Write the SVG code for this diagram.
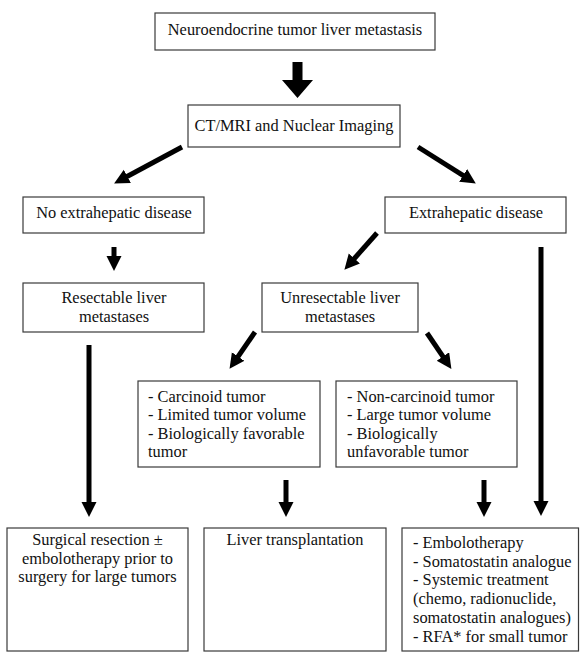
<svg xmlns="http://www.w3.org/2000/svg" width="580" height="652" viewBox="0 0 580 652">
<style>
  .box { fill: #ffffff; stroke: #3a3a3a; stroke-width: 1.2; }
  text { font-family: "Liberation Serif", "Times New Roman", serif; font-size: 16.4px; fill: #111111; }
  .c { text-anchor: middle; }
  .arr { stroke: #000000; stroke-width: 5; fill: none; marker-end: url(#head); }
</style>
<defs>
  <marker id="head" markerUnits="userSpaceOnUse" markerWidth="16" markerHeight="16" refX="4" refY="7.5" orient="auto">
    <path d="M0,0 L15,7.5 L0,15 z" fill="#000000"/>
  </marker>
</defs>
<rect width="580" height="652" fill="#ffffff"/>

<g id="connectors">
  <polygon points="292.5,62 302.5,62 302.5,80 313,80 297.5,98 282,80 292.5,80" fill="#000000"/>
  <line class="arr" x1="182" y1="147" x2="123.8" y2="178.2"/>
  <line class="arr" x1="418" y1="147" x2="466.5" y2="177.6"/>
  <line class="arr" x1="377" y1="233" x2="351.7" y2="261.5"/>
  <line class="arr" x1="255" y1="332" x2="235.8" y2="359.8"/>
  <line class="arr" x1="427" y1="333" x2="445.2" y2="359.8"/>
  <line class="arr" x1="114" y1="247" x2="114" y2="260"/>
  <line class="arr" x1="89" y1="345" x2="89" y2="506"/>
  <line class="arr" x1="541" y1="247" x2="541" y2="505"/>
  <line class="arr" x1="286" y1="480" x2="286" y2="506"/>
  <line class="arr" x1="484" y1="480" x2="484" y2="506"/>
</g>

<g id="n-start">
  <rect class="box" x="155" y="13" width="280" height="37"/>
  <text class="c" x="295" y="35">Neuroendocrine tumor liver metastasis</text>
</g>
<g id="n-imaging">
  <rect class="box" x="188" y="105" width="212" height="42"/>
  <text class="c" x="294" y="131">CT/MRI and Nuclear Imaging</text>
</g>
<g id="n-noextra">
  <rect class="box" x="23" y="197" width="181" height="36"/>
  <text class="c" x="114" y="218">No extrahepatic disease</text>
</g>
<g id="n-extra">
  <rect class="box" x="385" y="197" width="181" height="36"/>
  <text class="c" x="476" y="218">Extrahepatic disease</text>
</g>
<g id="n-resectable">
  <rect class="box" x="23" y="283" width="181" height="49"/>
  <text class="c" x="114" y="303">Resectable liver</text>
  <text class="c" x="114" y="321.5">metastases</text>
</g>
<g id="n-unresectable">
  <rect class="box" x="262" y="283" width="156" height="49"/>
  <text class="c" x="340" y="303">Unresectable liver</text>
  <text class="c" x="340" y="321.5">metastases</text>
</g>
<g id="n-carcinoid">
  <rect class="box" x="138" y="381" width="182" height="86"/>
  <text x="148" y="402">- Carcinoid tumor</text>
  <text x="148" y="420.4">- Limited tumor volume</text>
  <text x="148" y="438.8">- Biologically favorable</text>
  <text x="148" y="457.2">tumor</text>
</g>
<g id="n-noncarcinoid">
  <rect class="box" x="336" y="381" width="181" height="86"/>
  <text x="347" y="402">- Non-carcinoid tumor</text>
  <text x="347" y="420.4">- Large tumor volume</text>
  <text x="347" y="438.8">- Biologically</text>
  <text x="347" y="457.2">unfavorable tumor</text>
</g>
<g id="n-surgical">
  <rect class="box" x="7" y="528" width="181" height="123"/>
  <text class="c" x="97.5" y="545">Surgical resection ±</text>
  <text class="c" x="97.5" y="563.5">embolotherapy prior to</text>
  <text class="c" x="97.5" y="582">surgery for large tumors</text>
</g>
<g id="n-transplant">
  <rect class="box" x="204" y="528" width="182" height="123"/>
  <text class="c" x="295" y="545">Liver transplantation</text>
</g>
<g id="n-other">
  <rect class="box" x="402" y="528" width="176.5" height="123"/>
  <text x="413" y="548">- Embolotherapy</text>
  <text x="413" y="566.7">- Somatostatin analogue</text>
  <text x="413" y="585.4">- Systemic treatment</text>
  <text x="413" y="604.1">(chemo, radionuclide,</text>
  <text x="413" y="622.8">somatostatin analogues)</text>
  <text x="413" y="641.5">- RFA* for small tumor</text>
</g>
</svg>
